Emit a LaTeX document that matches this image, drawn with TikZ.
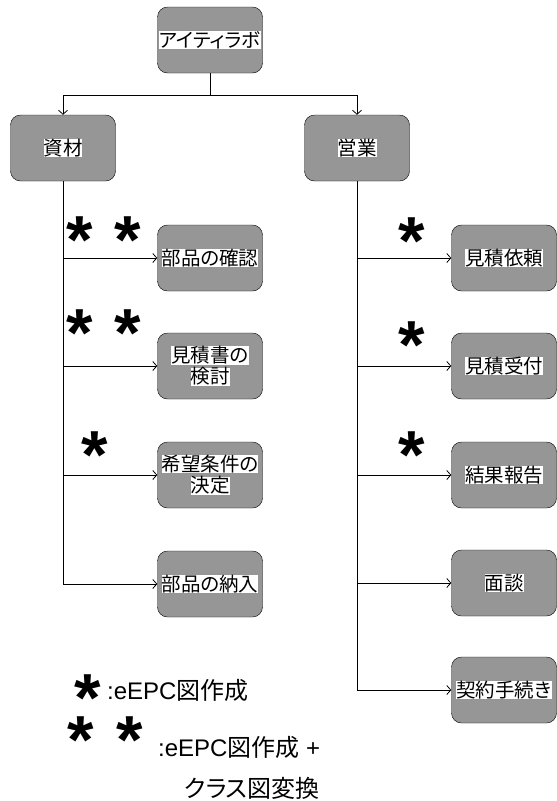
\documentclass[tikz,border=0pt]{standalone}
\usepackage{fontspec}
\setmainfont{Liberation Sans}
\newfontfamily\jp[RawFeature=+palt]{Noto Sans CJK JP}
\usetikzlibrary{arrows.meta}
\definecolor{boxgray}{RGB}{150,150,150}
% 白地のラベル
\newcommand{\wbg}[1]{{\setlength{\fboxsep}{0pt}\colorbox{white}{#1}}}
% 印 (中心を基準線に合わせる)
\newcommand{\astmark}{\raisebox{-0.46em}[0.2em][0.2em]{*}}

\begin{document}
\begin{tikzpicture}[x=1pt, y=-1pt]
        \tikzstyle{task}=[rectangle, rounded corners=10pt, draw=black, fill=boxgray, minimum width=105pt, minimum height=66pt, inner sep=0pt, align=center, font=\jp\fontsize{19.5}{21}\selectfont]
        \tikzstyle{flow}=[-{Straight Barb[length=4pt,width=9pt]}, line width=0.8pt]
        \tikzstyle{astx}=[font=\bfseries\fontsize{68}{68}\selectfont, inner sep=0pt]
        \tikzstyle{legend}=[font=\fontsize{24}{26}\selectfont, inner sep=0pt, anchor=west]

        \useasboundingbox (0,0) rectangle (557,801);

        % 組織
        \node[task] (lab) at (210,40) {\wbg{アイティラボ}};
        \node[task] (shizai) at (63,148) {\wbg{資材}};
        \node[task] (eigyo) at (357,148) {\wbg{営業}};

        % 資材の業務
        \node[task] (kakunin) at (210,258) {\wbg{部品の確認}};
        \node[task] (kento) at (210,366) {\wbg{見積書の}\\\wbg{検討}};
        \node[task] (kettei) at (210,475) {\wbg{希望条件の}\\\wbg{決定}};
        \node[task] (nonyu) at (210,584) {\wbg{部品の納入}};

        % 営業の業務
        \node[task] (irai) at (504,258) {\wbg{見積依頼}};
        \node[task] (uketsuke) at (504,366) {\wbg{見積受付}};
        \node[task] (hokoku) at (504,475) {\wbg{結果報告}};
        \node[task] (mendan) at (504,583) {\wbg{面談}};
        \node[task] (keiyaku) at (504,690) {\wbg{契約手続き}};

        % 線
        \coordinate (bunki) at (210,95);
        \draw[line width=0.8pt] (lab.south) -- (bunki);
        \draw[flow] (bunki) -| (shizai.north);
        \draw[flow] (bunki) -| (eigyo.north);
        \foreach \t in {kakunin,kento,kettei,nonyu}
            \draw[flow] (shizai.south) |- (\t.west);
        \foreach \t in {irai,uketsuke,hokoku,mendan,keiyaku}
            \draw[flow] (eigyo.south) |- (\t.west);

        % 印
        \node[astx] (s1a) at (80,232) {\astmark};
        \node[astx] (s1b) at (128,232) {\astmark};
        \node[astx] (s2a) at (80,325) {\astmark};
        \node[astx] (s2b) at (128,325) {\astmark};
        \node[astx] (s3) at (95,447) {\astmark};
        \node[astx] (s4) at (412,233) {\astmark};
        \node[astx] (s5) at (412,337) {\astmark};
        \node[astx] (s6) at (412,447) {\astmark};

        % 凡例
        \node[astx] (l1) at (88,690) {\astmark};
        \node[legend] (t1) at (107,690) {:eEPC{\jp 図作成}};
        \node[astx] (l2a) at (81,732) {\astmark};
        \node[astx] (l2b) at (130,732) {\astmark};
        \node[legend] (t2) at (158,747) {:eEPC{\jp 図作成} +};
        \node[legend] (t3) at (184,788) {\jp クラス図変換};
\end{tikzpicture}
\end{document}
